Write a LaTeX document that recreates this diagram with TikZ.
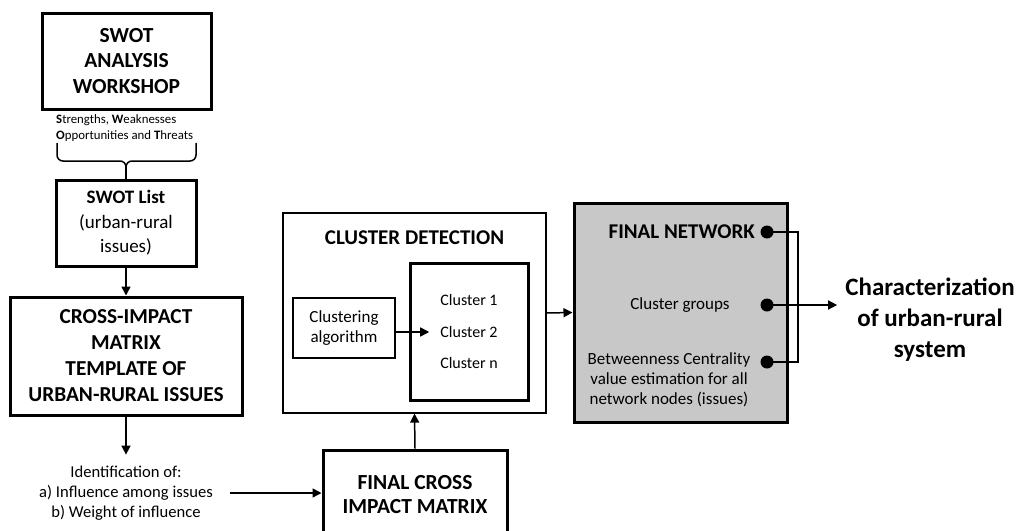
\documentclass[tikz,border=0pt]{standalone}
\usepackage{fontspec}
\setmainfont{Carlito}
\usetikzlibrary{arrows.meta,calc}
\definecolor{netgray}{RGB}{200,200,200}
\newcommand{\fs}[2]{\fontsize{#1}{#2}\selectfont}

\begin{document}
\begin{tikzpicture}[x=1pt,y=-1pt,
  heavy/.style={draw, line width=3pt, inner sep=0pt, align=center},
  light/.style={draw, line width=1.2pt, inner sep=0pt, align=center},
  plain/.style={inner sep=0pt, align=center},
  conn/.style={line width=1.5pt, -{Triangle[length=9pt,width=9pt]}},
  wire/.style={line width=1.5pt},
  dot/.style={circle, fill=black, inner sep=0pt, minimum size=13pt}]
\useasboundingbox (0,0) rectangle (1027,530);

% left column
\node[heavy, minimum width=169pt, minimum height=96pt, font=\bfseries\fs{21.5}{25.5}] (workshop) at (126.5,61) {SWOT\\ANALYSIS\\WORKSHOP};
\node[plain, align=left, anchor=west, font=\fs{12.8}{16}] (swot) at (56,128)
  {\textbf{S}trengths, \textbf{W}eaknesses\\\textbf{O}pportunities and \textbf{T}hreats};
\draw[wire] (57,143) -- (57,155) to[out=-90,in=180] (63,161) -- (120,161) to[out=0,in=90] (126,167)
  to[out=90,in=180] (132,161) -- (190,161) to[out=0,in=-90] (196,155) -- (196,143);
\coordinate (bracetip) at (126,167);
\node[heavy, minimum width=140pt, minimum height=86pt, font=\fs{19}{24.5}] (swotlist) at (126,223)
  {\textbf{SWOT List}\\(urban-rural\\issues)};
\node[heavy, minimum width=232pt, minimum height=118pt, font=\bfseries\fs{21.3}{26}] (cross) at (126,356)
  {CROSS-IMPACT\\MATRIX\\TEMPLATE OF\\URBAN-RURAL ISSUES};
\node[plain, font=\fs{16.6}{20}] (ident) at (126,493)
  {Identification of:\\a) Influence among issues\\b) Weight of influence};

\draw[wire] (bracetip) -- (swotlist.north);
\draw[conn] (swotlist.south) -- (cross.north);
\draw[conn, shorten >=11pt] (cross.south) -- (ident.north);

% middle
\node[heavy, minimum width=184pt, minimum height=90pt, font=\bfseries\fs{21.5}{24}] (final) at (415,495)
  {FINAL CROSS\\IMPACT MATRIX};
\draw[conn, shorten <=17pt] (ident.east) -- (ident.east -| final.west);

\node[light, minimum width=263pt, minimum height=200pt] (detect) at (414.5,313) {};
\node[plain, font=\bfseries\fs{21}{24}] (detecttitle) at (414.5,238) {CLUSTER DETECTION};
\node[light, minimum width=102pt, minimum height=60pt, font=\fs{17}{19.5}] (algo) at (344,328)
  {Clustering\\algorithm};
\node[heavy, minimum width=118pt, minimum height=137pt] (clusters) at (469,331.5) {};
\node[plain, font=\fs{16}{18}] (c1) at (469,300) {Cluster 1};
\node[plain, font=\fs{16}{18}] (c2) at (469,332) {Cluster 2};
\node[plain, font=\fs{16}{18}] (cn) at (469,363) {Cluster n};
\draw[conn, shorten >=11pt] (algo.east |- c2) -- (c2.west);
\draw[conn] (final.north) -- (detect.south);

% final network
\node[heavy, fill=netgray, minimum width=213pt, minimum height=219pt] (network) at (680.5,312.5) {};
\draw[conn] (detect.east) -- (network.west);
\node[plain, anchor=east, font=\bfseries\fs{21}{24}] (nettitle) at (755,232) {FINAL NETWORK};
\node[plain, font=\fs{17}{20}] (groups) at (680,305) {Cluster groups};
\node[plain, font=\fs{17}{20}] (between) at (669,380)
  {Betweenness Centrality\\value estimation for all\\network nodes (issues)};
\node[dot] (d1) at (767,232) {};
\node[dot] (d2) at (767,305) {};
\node[dot] (d3) at (767,362) {};
\coordinate (bend1) at (798,232);
\coordinate (bend3) at (798,362);
\draw[wire] (d1.center) -- (bend1) -- (bend3) -- (d3.center);

\node[plain, font=\bfseries\fs{25}{31}] (charact) at (930,320)
  {Characterization\\of urban-rural\\system};
\draw[conn, shorten >=8pt] (d2.center) -- (d2 -| charact.west);
\end{tikzpicture}
\end{document}
